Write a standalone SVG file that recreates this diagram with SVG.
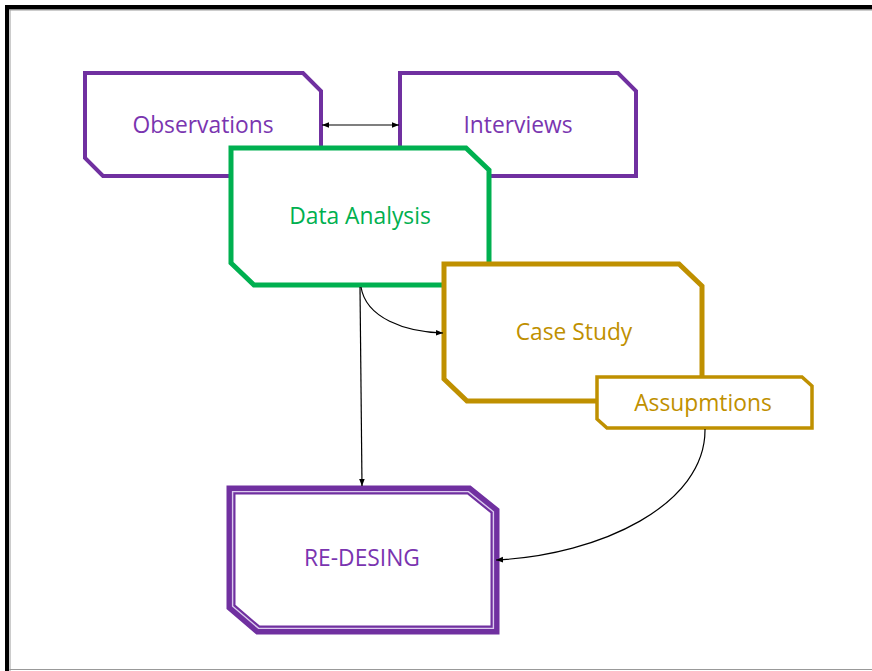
<svg xmlns="http://www.w3.org/2000/svg" width="872" height="671" viewBox="0 0 872 671">
  <defs>
    <marker id="ah" viewBox="0 0 10 10" refX="10" refY="5" markerWidth="7" markerHeight="7" orient="auto-start-reverse" markerUnits="userSpaceOnUse">
      <path d="M0,1 L10,5 L0,9 z" fill="#000"/>
    </marker>
    <style>
      .lbl { font-family: "Open Sans", "Liberation Sans", Arial, sans-serif; font-size: 22.8px; font-weight: 500; text-anchor: middle; dominant-baseline: central; }
      .purple { stroke: #7030A0; fill: #fff; }
      .ptxt { fill: #7A35B0; }
      .conn { stroke: #000; stroke-width: 1.2; fill: none; }
    </style>
  </defs>
  <rect width="872" height="671" fill="#fff"/>
  <g id="frame">
    <rect x="5" y="5" width="867" height="4.5" fill="#000"/>
    <rect x="5" y="5" width="4" height="666" fill="#000"/>
    <line x1="9.5" y1="10" x2="872" y2="10" stroke="#999" stroke-width="1"/>
    <line x1="10" y1="10" x2="10" y2="671" stroke="#999" stroke-width="1"/>
    <line x1="9.5" y1="669.5" x2="872" y2="669.5" stroke="#999" stroke-width="1"/>
  </g>

  <g id="observations">
    <path class="purple" d="M85,73 H303 L321,91 V176 H103 L85,158 Z" stroke-width="4"/>
    <text class="lbl ptxt" x="203" y="124">Observations</text>
  </g>
  <g id="interviews">
    <path class="purple" d="M400,73 H618 L636,91 V176 H418 L400,158 Z" stroke-width="4"/>
    <text class="lbl ptxt" x="518" y="124">Interviews</text>
  </g>
  <g id="data-analysis">
    <path d="M231,148 H466 L489,170 V285 H254 L231,263 Z" fill="#fff" stroke="#00B050" stroke-width="5"/>
    <text class="lbl" x="360" y="215" fill="#00B050">Data Analysis</text>
  </g>
  <g id="case-study">
    <path d="M444,264 H679 L702,286 V401 H467 L444,379 Z" fill="#fff" stroke="#BF9000" stroke-width="5"/>
    <text class="lbl" x="574" y="331" fill="#BF9000">Case Study</text>
  </g>
  <g id="assumptions">
    <path d="M597,377 H802 L812,386 V428 H607 L597,419 Z" fill="#fff" stroke="#BF9000" stroke-width="3.5"/>
    <text class="lbl" x="703" y="402" fill="#BF9000">Assupmtions</text>
  </g>
  <g id="re-design">
    <path d="M231,490 H469 L495,511 V630 H258 L231,607 Z" fill="#fff" stroke="#7030A0" stroke-width="9"/>
    <path d="M232.6,491.6 H468.4 L493.4,511.8 V628.4 H258.6 L232.6,606.3 Z" fill="none" stroke="#DCCBEE" stroke-width="1.4"/>
    <text class="lbl ptxt" x="362" y="557">RE-DESING</text>
  </g>

  <g id="connectors">
    <line class="conn" x1="322" y1="125" x2="399" y2="125" marker-start="url(#ah)" marker-end="url(#ah)"/>
    <path class="conn" d="M360,287 L362,486" marker-end="url(#ah)"/>
    <path class="conn" d="M361,287 C366,318 405,332 443,333" marker-end="url(#ah)"/>
    <path class="conn" d="M705,429 C706,505 600,555 496,560" marker-end="url(#ah)"/>
  </g>
</svg>
